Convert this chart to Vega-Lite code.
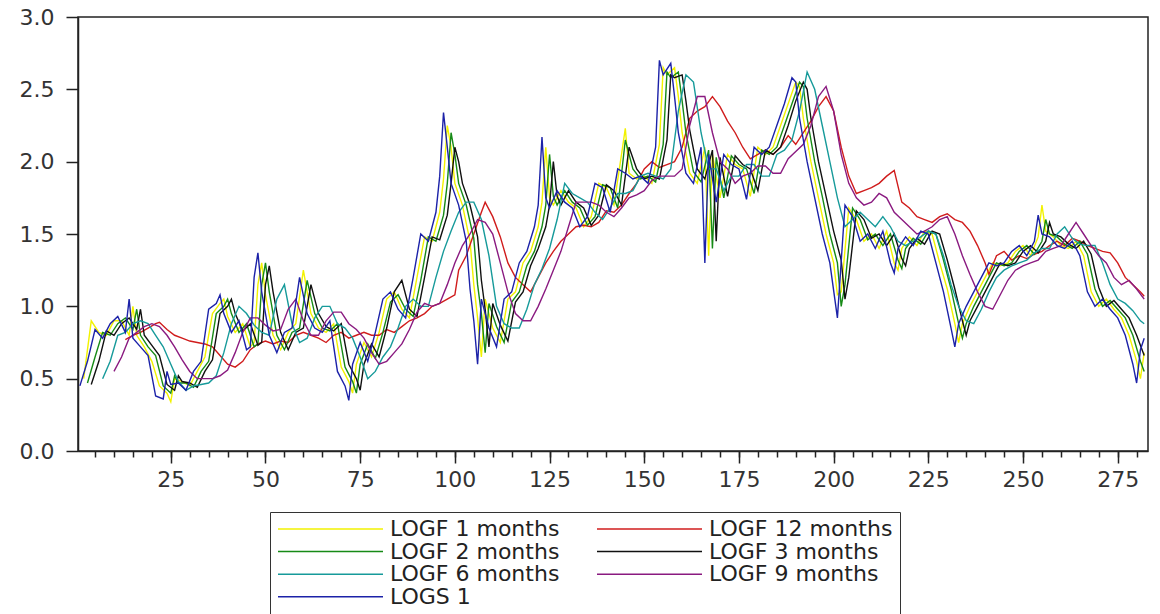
{
"$schema":"https://vega.github.io/schema/vega-lite/v6.json",
"width":1070,"height":434,
"autosize":{"type":"none"},
"padding":{"left":78,"top":17,"right":12,"bottom":163},
"background":"#ffffff",
"config":{"view":{"stroke":"#222","strokeWidth":1.5},"axis":{"domainColor":"#222","tickColor":"#222","labelFont":"DejaVu Sans","labelFontSize":22,"labelColor":"#333","grid":false}},
"data":{"values":[
{"s":"LOGF 1 months","t":2,"v":0.5},{"s":"LOGF 1 months","t":4,"v":0.9},{"s":"LOGF 1 months","t":6,"v":0.82},{"s":"LOGF 1 months","t":8,"v":0.8},{"s":"LOGF 1 months","t":10,"v":0.9},{"s":"LOGF 1 months","t":12,"v":0.9},{"s":"LOGF 1 months","t":14,"v":0.8},{"s":"LOGF 1 months","t":15,"v":1.0},{"s":"LOGF 1 months","t":16,"v":0.8},{"s":"LOGF 1 months","t":18,"v":0.72},{"s":"LOGF 1 months","t":20,"v":0.62},{"s":"LOGF 1 months","t":22,"v":0.45},{"s":"LOGF 1 months","t":24,"v":0.4},{"s":"LOGF 1 months","t":25,"v":0.34},{"s":"LOGF 1 months","t":26,"v":0.5},{"s":"LOGF 1 months","t":28,"v":0.48},{"s":"LOGF 1 months","t":30,"v":0.45},{"s":"LOGF 1 months","t":32,"v":0.55},{"s":"LOGF 1 months","t":34,"v":0.65},{"s":"LOGF 1 months","t":36,"v":0.95},{"s":"LOGF 1 months","t":38,"v":1.02},{"s":"LOGF 1 months","t":39,"v":1.05},{"s":"LOGF 1 months","t":40,"v":0.93},{"s":"LOGF 1 months","t":42,"v":0.82},{"s":"LOGF 1 months","t":44,"v":0.88},{"s":"LOGF 1 months","t":46,"v":0.72},{"s":"LOGF 1 months","t":47,"v":0.75},{"s":"LOGF 1 months","t":48,"v":1.15},{"s":"LOGF 1 months","t":49,"v":1.3},{"s":"LOGF 1 months","t":50,"v":1.08},{"s":"LOGF 1 months","t":52,"v":0.8},{"s":"LOGF 1 months","t":54,"v":0.7},{"s":"LOGF 1 months","t":56,"v":0.82},{"s":"LOGF 1 months","t":58,"v":0.88},{"s":"LOGF 1 months","t":60,"v":1.25},{"s":"LOGF 1 months","t":62,"v":0.95},{"s":"LOGF 1 months","t":64,"v":0.85},{"s":"LOGF 1 months","t":66,"v":0.82},{"s":"LOGF 1 months","t":68,"v":0.88},{"s":"LOGF 1 months","t":70,"v":0.58},{"s":"LOGF 1 months","t":72,"v":0.48},{"s":"LOGF 1 months","t":73,"v":0.4},{"s":"LOGF 1 months","t":74,"v":0.6},{"s":"LOGF 1 months","t":76,"v":0.75},{"s":"LOGF 1 months","t":78,"v":0.65},{"s":"LOGF 1 months","t":80,"v":0.82},{"s":"LOGF 1 months","t":82,"v":1.05},{"s":"LOGF 1 months","t":84,"v":1.1},{"s":"LOGF 1 months","t":86,"v":0.98},{"s":"LOGF 1 months","t":88,"v":0.92},{"s":"LOGF 1 months","t":90,"v":1.2},{"s":"LOGF 1 months","t":92,"v":1.48},{"s":"LOGF 1 months","t":94,"v":1.45},{"s":"LOGF 1 months","t":96,"v":1.65},{"s":"LOGF 1 months","t":97,"v":1.88},{"s":"LOGF 1 months","t":98,"v":2.25},{"s":"LOGF 1 months","t":99,"v":2.1},{"s":"LOGF 1 months","t":100,"v":1.85},{"s":"LOGF 1 months","t":102,"v":1.7},{"s":"LOGF 1 months","t":104,"v":1.45},{"s":"LOGF 1 months","t":105,"v":1.15},{"s":"LOGF 1 months","t":106,"v":0.92},{"s":"LOGF 1 months","t":107,"v":0.65},{"s":"LOGF 1 months","t":108,"v":1.05},{"s":"LOGF 1 months","t":110,"v":0.85},{"s":"LOGF 1 months","t":112,"v":0.75},{"s":"LOGF 1 months","t":114,"v":1.05},{"s":"LOGF 1 months","t":116,"v":1.1},{"s":"LOGF 1 months","t":118,"v":1.3},{"s":"LOGF 1 months","t":120,"v":1.38},{"s":"LOGF 1 months","t":122,"v":1.55},{"s":"LOGF 1 months","t":123,"v":1.72},{"s":"LOGF 1 months","t":124,"v":2.1},{"s":"LOGF 1 months","t":125,"v":1.75},{"s":"LOGF 1 months","t":126,"v":1.7},{"s":"LOGF 1 months","t":128,"v":1.8},{"s":"LOGF 1 months","t":130,"v":1.72},{"s":"LOGF 1 months","t":132,"v":1.68},{"s":"LOGF 1 months","t":134,"v":1.55},{"s":"LOGF 1 months","t":136,"v":1.62},{"s":"LOGF 1 months","t":138,"v":1.85},{"s":"LOGF 1 months","t":140,"v":1.82},{"s":"LOGF 1 months","t":142,"v":1.7},{"s":"LOGF 1 months","t":144,"v":2.05},{"s":"LOGF 1 months","t":145,"v":2.23},{"s":"LOGF 1 months","t":146,"v":1.92},{"s":"LOGF 1 months","t":148,"v":1.88},{"s":"LOGF 1 months","t":150,"v":1.9},{"s":"LOGF 1 months","t":152,"v":1.85},{"s":"LOGF 1 months","t":154,"v":2.12},{"s":"LOGF 1 months","t":155,"v":2.65},{"s":"LOGF 1 months","t":156,"v":2.6},{"s":"LOGF 1 months","t":158,"v":2.65},{"s":"LOGF 1 months","t":159,"v":2.45},{"s":"LOGF 1 months","t":160,"v":2.2},{"s":"LOGF 1 months","t":162,"v":1.92},{"s":"LOGF 1 months","t":164,"v":1.85},{"s":"LOGF 1 months","t":166,"v":2.1},{"s":"LOGF 1 months","t":167,"v":1.35},{"s":"LOGF 1 months","t":168,"v":2.05},{"s":"LOGF 1 months","t":170,"v":1.75},{"s":"LOGF 1 months","t":172,"v":2.05},{"s":"LOGF 1 months","t":174,"v":1.98},{"s":"LOGF 1 months","t":176,"v":1.95},{"s":"LOGF 1 months","t":178,"v":1.76},{"s":"LOGF 1 months","t":180,"v":2.1},{"s":"LOGF 1 months","t":182,"v":2.05},{"s":"LOGF 1 months","t":184,"v":2.1},{"s":"LOGF 1 months","t":186,"v":2.25},{"s":"LOGF 1 months","t":188,"v":2.4},{"s":"LOGF 1 months","t":190,"v":2.55},{"s":"LOGF 1 months","t":191,"v":2.52},{"s":"LOGF 1 months","t":192,"v":2.3},{"s":"LOGF 1 months","t":194,"v":2.0},{"s":"LOGF 1 months","t":196,"v":1.75},{"s":"LOGF 1 months","t":198,"v":1.5},{"s":"LOGF 1 months","t":200,"v":1.3},{"s":"LOGF 1 months","t":201,"v":1.08},{"s":"LOGF 1 months","t":202,"v":1.1},{"s":"LOGF 1 months","t":204,"v":1.68},{"s":"LOGF 1 months","t":206,"v":1.6},{"s":"LOGF 1 months","t":208,"v":1.45},{"s":"LOGF 1 months","t":210,"v":1.5},{"s":"LOGF 1 months","t":212,"v":1.4},{"s":"LOGF 1 months","t":214,"v":1.52},{"s":"LOGF 1 months","t":216,"v":1.3},{"s":"LOGF 1 months","t":217,"v":1.25},{"s":"LOGF 1 months","t":218,"v":1.4},{"s":"LOGF 1 months","t":220,"v":1.48},{"s":"LOGF 1 months","t":222,"v":1.42},{"s":"LOGF 1 months","t":224,"v":1.52},{"s":"LOGF 1 months","t":226,"v":1.5},{"s":"LOGF 1 months","t":228,"v":1.3},{"s":"LOGF 1 months","t":230,"v":1.12},{"s":"LOGF 1 months","t":232,"v":0.88},{"s":"LOGF 1 months","t":233,"v":0.75},{"s":"LOGF 1 months","t":234,"v":0.88},{"s":"LOGF 1 months","t":236,"v":1.0},{"s":"LOGF 1 months","t":238,"v":1.1},{"s":"LOGF 1 months","t":240,"v":1.2},{"s":"LOGF 1 months","t":242,"v":1.3},{"s":"LOGF 1 months","t":244,"v":1.28},{"s":"LOGF 1 months","t":246,"v":1.3},{"s":"LOGF 1 months","t":248,"v":1.38},{"s":"LOGF 1 months","t":250,"v":1.42},{"s":"LOGF 1 months","t":252,"v":1.35},{"s":"LOGF 1 months","t":254,"v":1.48},{"s":"LOGF 1 months","t":255,"v":1.7},{"s":"LOGF 1 months","t":256,"v":1.52},{"s":"LOGF 1 months","t":258,"v":1.48},{"s":"LOGF 1 months","t":260,"v":1.42},{"s":"LOGF 1 months","t":262,"v":1.4},{"s":"LOGF 1 months","t":264,"v":1.45},{"s":"LOGF 1 months","t":266,"v":1.35},{"s":"LOGF 1 months","t":268,"v":1.1},{"s":"LOGF 1 months","t":270,"v":1.0},{"s":"LOGF 1 months","t":272,"v":1.05},{"s":"LOGF 1 months","t":274,"v":0.98},{"s":"LOGF 1 months","t":276,"v":0.92},{"s":"LOGF 1 months","t":278,"v":0.8},{"s":"LOGF 1 months","t":280,"v":0.62},{"s":"LOGF 1 months","t":281,"v":0.5},{"s":"LOGF 1 months","t":282,"v":0.68},
{"s":"LOGF 12 months","t":13,"v":0.77},{"s":"LOGF 12 months","t":15,"v":0.8},{"s":"LOGF 12 months","t":17,"v":0.82},{"s":"LOGF 12 months","t":19,"v":0.85},{"s":"LOGF 12 months","t":21,"v":0.88},{"s":"LOGF 12 months","t":22,"v":0.89},{"s":"LOGF 12 months","t":24,"v":0.84},{"s":"LOGF 12 months","t":26,"v":0.8},{"s":"LOGF 12 months","t":28,"v":0.78},{"s":"LOGF 12 months","t":30,"v":0.76},{"s":"LOGF 12 months","t":32,"v":0.75},{"s":"LOGF 12 months","t":34,"v":0.74},{"s":"LOGF 12 months","t":36,"v":0.72},{"s":"LOGF 12 months","t":38,"v":0.66},{"s":"LOGF 12 months","t":40,"v":0.6},{"s":"LOGF 12 months","t":42,"v":0.58},{"s":"LOGF 12 months","t":44,"v":0.62},{"s":"LOGF 12 months","t":46,"v":0.7},{"s":"LOGF 12 months","t":48,"v":0.74},{"s":"LOGF 12 months","t":50,"v":0.76},{"s":"LOGF 12 months","t":52,"v":0.74},{"s":"LOGF 12 months","t":54,"v":0.76},{"s":"LOGF 12 months","t":56,"v":0.75},{"s":"LOGF 12 months","t":58,"v":0.8},{"s":"LOGF 12 months","t":60,"v":0.82},{"s":"LOGF 12 months","t":62,"v":0.8},{"s":"LOGF 12 months","t":64,"v":0.78},{"s":"LOGF 12 months","t":66,"v":0.75},{"s":"LOGF 12 months","t":68,"v":0.8},{"s":"LOGF 12 months","t":70,"v":0.82},{"s":"LOGF 12 months","t":72,"v":0.78},{"s":"LOGF 12 months","t":74,"v":0.8},{"s":"LOGF 12 months","t":76,"v":0.82},{"s":"LOGF 12 months","t":78,"v":0.8},{"s":"LOGF 12 months","t":80,"v":0.8},{"s":"LOGF 12 months","t":82,"v":0.84},{"s":"LOGF 12 months","t":84,"v":0.82},{"s":"LOGF 12 months","t":86,"v":0.86},{"s":"LOGF 12 months","t":88,"v":0.9},{"s":"LOGF 12 months","t":90,"v":0.92},{"s":"LOGF 12 months","t":92,"v":0.95},{"s":"LOGF 12 months","t":94,"v":1.0},{"s":"LOGF 12 months","t":96,"v":1.02},{"s":"LOGF 12 months","t":98,"v":1.05},{"s":"LOGF 12 months","t":100,"v":1.08},{"s":"LOGF 12 months","t":101,"v":1.25},{"s":"LOGF 12 months","t":103,"v":1.35},{"s":"LOGF 12 months","t":105,"v":1.5},{"s":"LOGF 12 months","t":107,"v":1.65},{"s":"LOGF 12 months","t":108,"v":1.72},{"s":"LOGF 12 months","t":110,"v":1.62},{"s":"LOGF 12 months","t":112,"v":1.48},{"s":"LOGF 12 months","t":114,"v":1.3},{"s":"LOGF 12 months","t":116,"v":1.2},{"s":"LOGF 12 months","t":118,"v":1.15},{"s":"LOGF 12 months","t":120,"v":1.1},{"s":"LOGF 12 months","t":122,"v":1.2},{"s":"LOGF 12 months","t":124,"v":1.3},{"s":"LOGF 12 months","t":126,"v":1.38},{"s":"LOGF 12 months","t":128,"v":1.45},{"s":"LOGF 12 months","t":130,"v":1.5},{"s":"LOGF 12 months","t":132,"v":1.55},{"s":"LOGF 12 months","t":134,"v":1.56},{"s":"LOGF 12 months","t":136,"v":1.55},{"s":"LOGF 12 months","t":138,"v":1.58},{"s":"LOGF 12 months","t":140,"v":1.66},{"s":"LOGF 12 months","t":142,"v":1.65},{"s":"LOGF 12 months","t":144,"v":1.7},{"s":"LOGF 12 months","t":146,"v":1.78},{"s":"LOGF 12 months","t":148,"v":1.85},{"s":"LOGF 12 months","t":150,"v":1.95},{"s":"LOGF 12 months","t":152,"v":2.0},{"s":"LOGF 12 months","t":154,"v":1.96},{"s":"LOGF 12 months","t":156,"v":1.98},{"s":"LOGF 12 months","t":158,"v":2.0},{"s":"LOGF 12 months","t":160,"v":2.1},{"s":"LOGF 12 months","t":162,"v":2.3},{"s":"LOGF 12 months","t":164,"v":2.35},{"s":"LOGF 12 months","t":166,"v":2.38},{"s":"LOGF 12 months","t":168,"v":2.45},{"s":"LOGF 12 months","t":170,"v":2.38},{"s":"LOGF 12 months","t":172,"v":2.28},{"s":"LOGF 12 months","t":174,"v":2.2},{"s":"LOGF 12 months","t":176,"v":2.1},{"s":"LOGF 12 months","t":178,"v":2.02},{"s":"LOGF 12 months","t":180,"v":2.05},{"s":"LOGF 12 months","t":182,"v":2.08},{"s":"LOGF 12 months","t":184,"v":2.05},{"s":"LOGF 12 months","t":186,"v":2.1},{"s":"LOGF 12 months","t":188,"v":2.18},{"s":"LOGF 12 months","t":190,"v":2.12},{"s":"LOGF 12 months","t":192,"v":2.2},{"s":"LOGF 12 months","t":194,"v":2.28},{"s":"LOGF 12 months","t":196,"v":2.38},{"s":"LOGF 12 months","t":198,"v":2.45},{"s":"LOGF 12 months","t":200,"v":2.35},{"s":"LOGF 12 months","t":202,"v":2.1},{"s":"LOGF 12 months","t":204,"v":1.9},{"s":"LOGF 12 months","t":206,"v":1.78},{"s":"LOGF 12 months","t":208,"v":1.8},{"s":"LOGF 12 months","t":210,"v":1.82},{"s":"LOGF 12 months","t":212,"v":1.85},{"s":"LOGF 12 months","t":214,"v":1.9},{"s":"LOGF 12 months","t":216,"v":1.94},{"s":"LOGF 12 months","t":218,"v":1.72},{"s":"LOGF 12 months","t":220,"v":1.68},{"s":"LOGF 12 months","t":222,"v":1.62},{"s":"LOGF 12 months","t":224,"v":1.6},{"s":"LOGF 12 months","t":226,"v":1.58},{"s":"LOGF 12 months","t":228,"v":1.62},{"s":"LOGF 12 months","t":230,"v":1.64},{"s":"LOGF 12 months","t":232,"v":1.6},{"s":"LOGF 12 months","t":234,"v":1.58},{"s":"LOGF 12 months","t":236,"v":1.52},{"s":"LOGF 12 months","t":238,"v":1.42},{"s":"LOGF 12 months","t":240,"v":1.3},{"s":"LOGF 12 months","t":241,"v":1.22},{"s":"LOGF 12 months","t":243,"v":1.35},{"s":"LOGF 12 months","t":245,"v":1.38},{"s":"LOGF 12 months","t":247,"v":1.32},{"s":"LOGF 12 months","t":249,"v":1.35},{"s":"LOGF 12 months","t":251,"v":1.33},{"s":"LOGF 12 months","t":253,"v":1.36},{"s":"LOGF 12 months","t":255,"v":1.38},{"s":"LOGF 12 months","t":257,"v":1.42},{"s":"LOGF 12 months","t":259,"v":1.45},{"s":"LOGF 12 months","t":261,"v":1.42},{"s":"LOGF 12 months","t":263,"v":1.47},{"s":"LOGF 12 months","t":265,"v":1.45},{"s":"LOGF 12 months","t":267,"v":1.42},{"s":"LOGF 12 months","t":269,"v":1.4},{"s":"LOGF 12 months","t":271,"v":1.38},{"s":"LOGF 12 months","t":273,"v":1.37},{"s":"LOGF 12 months","t":275,"v":1.3},{"s":"LOGF 12 months","t":277,"v":1.2},{"s":"LOGF 12 months","t":279,"v":1.15},{"s":"LOGF 12 months","t":281,"v":1.1},{"s":"LOGF 12 months","t":282,"v":1.07},
{"s":"LOGF 2 months","t":3,"v":0.47},{"s":"LOGF 2 months","t":5,"v":0.65},{"s":"LOGF 2 months","t":7,"v":0.82},{"s":"LOGF 2 months","t":9,"v":0.8},{"s":"LOGF 2 months","t":11,"v":0.88},{"s":"LOGF 2 months","t":13,"v":0.92},{"s":"LOGF 2 months","t":15,"v":0.84},{"s":"LOGF 2 months","t":16,"v":0.98},{"s":"LOGF 2 months","t":17,"v":0.8},{"s":"LOGF 2 months","t":19,"v":0.72},{"s":"LOGF 2 months","t":21,"v":0.66},{"s":"LOGF 2 months","t":23,"v":0.45},{"s":"LOGF 2 months","t":25,"v":0.4},{"s":"LOGF 2 months","t":26,"v":0.52},{"s":"LOGF 2 months","t":27,"v":0.47},{"s":"LOGF 2 months","t":29,"v":0.47},{"s":"LOGF 2 months","t":31,"v":0.44},{"s":"LOGF 2 months","t":33,"v":0.55},{"s":"LOGF 2 months","t":35,"v":0.62},{"s":"LOGF 2 months","t":37,"v":0.95},{"s":"LOGF 2 months","t":39,"v":1.0},{"s":"LOGF 2 months","t":40,"v":1.05},{"s":"LOGF 2 months","t":41,"v":0.95},{"s":"LOGF 2 months","t":43,"v":0.82},{"s":"LOGF 2 months","t":45,"v":0.88},{"s":"LOGF 2 months","t":47,"v":0.72},{"s":"LOGF 2 months","t":48,"v":0.74},{"s":"LOGF 2 months","t":49,"v":1.15},{"s":"LOGF 2 months","t":50,"v":1.3},{"s":"LOGF 2 months","t":51,"v":1.1},{"s":"LOGF 2 months","t":53,"v":0.8},{"s":"LOGF 2 months","t":55,"v":0.7},{"s":"LOGF 2 months","t":57,"v":0.82},{"s":"LOGF 2 months","t":59,"v":0.85},{"s":"LOGF 2 months","t":61,"v":1.18},{"s":"LOGF 2 months","t":63,"v":0.95},{"s":"LOGF 2 months","t":65,"v":0.85},{"s":"LOGF 2 months","t":67,"v":0.83},{"s":"LOGF 2 months","t":69,"v":0.88},{"s":"LOGF 2 months","t":71,"v":0.58},{"s":"LOGF 2 months","t":73,"v":0.48},{"s":"LOGF 2 months","t":74,"v":0.4},{"s":"LOGF 2 months","t":75,"v":0.6},{"s":"LOGF 2 months","t":77,"v":0.74},{"s":"LOGF 2 months","t":79,"v":0.64},{"s":"LOGF 2 months","t":81,"v":0.82},{"s":"LOGF 2 months","t":83,"v":1.03},{"s":"LOGF 2 months","t":85,"v":1.08},{"s":"LOGF 2 months","t":87,"v":0.98},{"s":"LOGF 2 months","t":89,"v":0.93},{"s":"LOGF 2 months","t":91,"v":1.18},{"s":"LOGF 2 months","t":93,"v":1.48},{"s":"LOGF 2 months","t":95,"v":1.45},{"s":"LOGF 2 months","t":97,"v":1.63},{"s":"LOGF 2 months","t":98,"v":1.85},{"s":"LOGF 2 months","t":99,"v":2.2},{"s":"LOGF 2 months","t":100,"v":2.05},{"s":"LOGF 2 months","t":101,"v":1.85},{"s":"LOGF 2 months","t":103,"v":1.7},{"s":"LOGF 2 months","t":105,"v":1.47},{"s":"LOGF 2 months","t":106,"v":1.15},{"s":"LOGF 2 months","t":107,"v":0.95},{"s":"LOGF 2 months","t":108,"v":0.68},{"s":"LOGF 2 months","t":109,"v":1.02},{"s":"LOGF 2 months","t":111,"v":0.86},{"s":"LOGF 2 months","t":113,"v":0.75},{"s":"LOGF 2 months","t":115,"v":1.03},{"s":"LOGF 2 months","t":117,"v":1.1},{"s":"LOGF 2 months","t":119,"v":1.28},{"s":"LOGF 2 months","t":121,"v":1.38},{"s":"LOGF 2 months","t":123,"v":1.55},{"s":"LOGF 2 months","t":124,"v":1.7},{"s":"LOGF 2 months","t":125,"v":2.05},{"s":"LOGF 2 months","t":126,"v":1.76},{"s":"LOGF 2 months","t":127,"v":1.7},{"s":"LOGF 2 months","t":129,"v":1.8},{"s":"LOGF 2 months","t":131,"v":1.72},{"s":"LOGF 2 months","t":133,"v":1.68},{"s":"LOGF 2 months","t":135,"v":1.56},{"s":"LOGF 2 months","t":137,"v":1.62},{"s":"LOGF 2 months","t":139,"v":1.84},{"s":"LOGF 2 months","t":141,"v":1.82},{"s":"LOGF 2 months","t":143,"v":1.68},{"s":"LOGF 2 months","t":145,"v":2.15},{"s":"LOGF 2 months","t":147,"v":1.95},{"s":"LOGF 2 months","t":149,"v":1.88},{"s":"LOGF 2 months","t":151,"v":1.9},{"s":"LOGF 2 months","t":153,"v":1.86},{"s":"LOGF 2 months","t":155,"v":2.12},{"s":"LOGF 2 months","t":156,"v":2.62},{"s":"LOGF 2 months","t":157,"v":2.58},{"s":"LOGF 2 months","t":159,"v":2.62},{"s":"LOGF 2 months","t":160,"v":2.42},{"s":"LOGF 2 months","t":161,"v":2.2},{"s":"LOGF 2 months","t":163,"v":1.93},{"s":"LOGF 2 months","t":165,"v":1.86},{"s":"LOGF 2 months","t":167,"v":2.08},{"s":"LOGF 2 months","t":168,"v":1.4},{"s":"LOGF 2 months","t":169,"v":2.03},{"s":"LOGF 2 months","t":171,"v":1.75},{"s":"LOGF 2 months","t":173,"v":2.04},{"s":"LOGF 2 months","t":175,"v":1.98},{"s":"LOGF 2 months","t":177,"v":1.95},{"s":"LOGF 2 months","t":179,"v":1.78},{"s":"LOGF 2 months","t":181,"v":2.08},{"s":"LOGF 2 months","t":183,"v":2.05},{"s":"LOGF 2 months","t":185,"v":2.1},{"s":"LOGF 2 months","t":187,"v":2.25},{"s":"LOGF 2 months","t":189,"v":2.4},{"s":"LOGF 2 months","t":191,"v":2.55},{"s":"LOGF 2 months","t":192,"v":2.52},{"s":"LOGF 2 months","t":193,"v":2.3},{"s":"LOGF 2 months","t":195,"v":2.0},{"s":"LOGF 2 months","t":197,"v":1.76},{"s":"LOGF 2 months","t":199,"v":1.5},{"s":"LOGF 2 months","t":201,"v":1.3},{"s":"LOGF 2 months","t":202,"v":1.0},{"s":"LOGF 2 months","t":203,"v":1.15},{"s":"LOGF 2 months","t":205,"v":1.68},{"s":"LOGF 2 months","t":207,"v":1.6},{"s":"LOGF 2 months","t":209,"v":1.46},{"s":"LOGF 2 months","t":211,"v":1.5},{"s":"LOGF 2 months","t":213,"v":1.42},{"s":"LOGF 2 months","t":215,"v":1.5},{"s":"LOGF 2 months","t":217,"v":1.32},{"s":"LOGF 2 months","t":218,"v":1.26},{"s":"LOGF 2 months","t":219,"v":1.4},{"s":"LOGF 2 months","t":221,"v":1.47},{"s":"LOGF 2 months","t":223,"v":1.43},{"s":"LOGF 2 months","t":225,"v":1.52},{"s":"LOGF 2 months","t":227,"v":1.5},{"s":"LOGF 2 months","t":229,"v":1.32},{"s":"LOGF 2 months","t":231,"v":1.12},{"s":"LOGF 2 months","t":233,"v":0.88},{"s":"LOGF 2 months","t":234,"v":0.78},{"s":"LOGF 2 months","t":235,"v":0.88},{"s":"LOGF 2 months","t":237,"v":1.0},{"s":"LOGF 2 months","t":239,"v":1.1},{"s":"LOGF 2 months","t":241,"v":1.2},{"s":"LOGF 2 months","t":243,"v":1.3},{"s":"LOGF 2 months","t":245,"v":1.28},{"s":"LOGF 2 months","t":247,"v":1.3},{"s":"LOGF 2 months","t":249,"v":1.38},{"s":"LOGF 2 months","t":251,"v":1.42},{"s":"LOGF 2 months","t":253,"v":1.36},{"s":"LOGF 2 months","t":255,"v":1.45},{"s":"LOGF 2 months","t":256,"v":1.6},{"s":"LOGF 2 months","t":257,"v":1.5},{"s":"LOGF 2 months","t":259,"v":1.48},{"s":"LOGF 2 months","t":261,"v":1.43},{"s":"LOGF 2 months","t":263,"v":1.4},{"s":"LOGF 2 months","t":265,"v":1.45},{"s":"LOGF 2 months","t":267,"v":1.36},{"s":"LOGF 2 months","t":269,"v":1.12},{"s":"LOGF 2 months","t":271,"v":1.0},{"s":"LOGF 2 months","t":273,"v":1.04},{"s":"LOGF 2 months","t":275,"v":0.98},{"s":"LOGF 2 months","t":277,"v":0.92},{"s":"LOGF 2 months","t":279,"v":0.8},{"s":"LOGF 2 months","t":281,"v":0.62},{"s":"LOGF 2 months","t":282,"v":0.55},
{"s":"LOGF 3 months","t":4,"v":0.46},{"s":"LOGF 3 months","t":6,"v":0.62},{"s":"LOGF 3 months","t":8,"v":0.83},{"s":"LOGF 3 months","t":10,"v":0.8},{"s":"LOGF 3 months","t":12,"v":0.88},{"s":"LOGF 3 months","t":14,"v":0.92},{"s":"LOGF 3 months","t":16,"v":0.84},{"s":"LOGF 3 months","t":17,"v":0.98},{"s":"LOGF 3 months","t":18,"v":0.8},{"s":"LOGF 3 months","t":20,"v":0.73},{"s":"LOGF 3 months","t":22,"v":0.66},{"s":"LOGF 3 months","t":24,"v":0.46},{"s":"LOGF 3 months","t":26,"v":0.42},{"s":"LOGF 3 months","t":27,"v":0.52},{"s":"LOGF 3 months","t":28,"v":0.48},{"s":"LOGF 3 months","t":30,"v":0.47},{"s":"LOGF 3 months","t":32,"v":0.44},{"s":"LOGF 3 months","t":34,"v":0.55},{"s":"LOGF 3 months","t":36,"v":0.63},{"s":"LOGF 3 months","t":38,"v":0.95},{"s":"LOGF 3 months","t":40,"v":1.0},{"s":"LOGF 3 months","t":41,"v":1.05},{"s":"LOGF 3 months","t":42,"v":0.95},{"s":"LOGF 3 months","t":44,"v":0.83},{"s":"LOGF 3 months","t":46,"v":0.88},{"s":"LOGF 3 months","t":48,"v":0.73},{"s":"LOGF 3 months","t":49,"v":0.75},{"s":"LOGF 3 months","t":50,"v":1.15},{"s":"LOGF 3 months","t":51,"v":1.28},{"s":"LOGF 3 months","t":52,"v":1.1},{"s":"LOGF 3 months","t":54,"v":0.82},{"s":"LOGF 3 months","t":56,"v":0.7},{"s":"LOGF 3 months","t":58,"v":0.82},{"s":"LOGF 3 months","t":60,"v":0.85},{"s":"LOGF 3 months","t":62,"v":1.15},{"s":"LOGF 3 months","t":64,"v":0.95},{"s":"LOGF 3 months","t":66,"v":0.86},{"s":"LOGF 3 months","t":68,"v":0.83},{"s":"LOGF 3 months","t":70,"v":0.88},{"s":"LOGF 3 months","t":72,"v":0.6},{"s":"LOGF 3 months","t":74,"v":0.5},{"s":"LOGF 3 months","t":75,"v":0.42},{"s":"LOGF 3 months","t":76,"v":0.6},{"s":"LOGF 3 months","t":78,"v":0.74},{"s":"LOGF 3 months","t":80,"v":0.65},{"s":"LOGF 3 months","t":82,"v":0.85},{"s":"LOGF 3 months","t":84,"v":1.1},{"s":"LOGF 3 months","t":86,"v":1.18},{"s":"LOGF 3 months","t":88,"v":0.98},{"s":"LOGF 3 months","t":90,"v":0.93},{"s":"LOGF 3 months","t":92,"v":1.2},{"s":"LOGF 3 months","t":94,"v":1.48},{"s":"LOGF 3 months","t":96,"v":1.46},{"s":"LOGF 3 months","t":98,"v":1.63},{"s":"LOGF 3 months","t":99,"v":1.85},{"s":"LOGF 3 months","t":100,"v":2.1},{"s":"LOGF 3 months","t":101,"v":2.0},{"s":"LOGF 3 months","t":102,"v":1.85},{"s":"LOGF 3 months","t":104,"v":1.7},{"s":"LOGF 3 months","t":106,"v":1.48},{"s":"LOGF 3 months","t":107,"v":1.18},{"s":"LOGF 3 months","t":108,"v":0.98},{"s":"LOGF 3 months","t":109,"v":0.72},{"s":"LOGF 3 months","t":110,"v":1.02},{"s":"LOGF 3 months","t":112,"v":0.87},{"s":"LOGF 3 months","t":114,"v":0.76},{"s":"LOGF 3 months","t":116,"v":1.03},{"s":"LOGF 3 months","t":118,"v":1.1},{"s":"LOGF 3 months","t":120,"v":1.28},{"s":"LOGF 3 months","t":122,"v":1.4},{"s":"LOGF 3 months","t":124,"v":1.55},{"s":"LOGF 3 months","t":125,"v":1.7},{"s":"LOGF 3 months","t":126,"v":2.0},{"s":"LOGF 3 months","t":127,"v":1.76},{"s":"LOGF 3 months","t":128,"v":1.7},{"s":"LOGF 3 months","t":130,"v":1.8},{"s":"LOGF 3 months","t":132,"v":1.72},{"s":"LOGF 3 months","t":134,"v":1.68},{"s":"LOGF 3 months","t":136,"v":1.56},{"s":"LOGF 3 months","t":138,"v":1.63},{"s":"LOGF 3 months","t":140,"v":1.84},{"s":"LOGF 3 months","t":142,"v":1.8},{"s":"LOGF 3 months","t":144,"v":1.7},{"s":"LOGF 3 months","t":146,"v":2.1},{"s":"LOGF 3 months","t":148,"v":1.95},{"s":"LOGF 3 months","t":150,"v":1.88},{"s":"LOGF 3 months","t":152,"v":1.9},{"s":"LOGF 3 months","t":154,"v":1.88},{"s":"LOGF 3 months","t":156,"v":2.15},{"s":"LOGF 3 months","t":157,"v":2.6},{"s":"LOGF 3 months","t":158,"v":2.58},{"s":"LOGF 3 months","t":160,"v":2.6},{"s":"LOGF 3 months","t":161,"v":2.42},{"s":"LOGF 3 months","t":162,"v":2.22},{"s":"LOGF 3 months","t":164,"v":1.95},{"s":"LOGF 3 months","t":166,"v":1.88},{"s":"LOGF 3 months","t":168,"v":2.08},{"s":"LOGF 3 months","t":169,"v":1.45},{"s":"LOGF 3 months","t":170,"v":2.03},{"s":"LOGF 3 months","t":172,"v":1.76},{"s":"LOGF 3 months","t":174,"v":2.04},{"s":"LOGF 3 months","t":176,"v":1.98},{"s":"LOGF 3 months","t":178,"v":1.95},{"s":"LOGF 3 months","t":180,"v":1.8},{"s":"LOGF 3 months","t":182,"v":2.08},{"s":"LOGF 3 months","t":184,"v":2.05},{"s":"LOGF 3 months","t":186,"v":2.1},{"s":"LOGF 3 months","t":188,"v":2.25},{"s":"LOGF 3 months","t":190,"v":2.42},{"s":"LOGF 3 months","t":192,"v":2.55},{"s":"LOGF 3 months","t":193,"v":2.5},{"s":"LOGF 3 months","t":194,"v":2.3},{"s":"LOGF 3 months","t":196,"v":2.0},{"s":"LOGF 3 months","t":198,"v":1.76},{"s":"LOGF 3 months","t":200,"v":1.52},{"s":"LOGF 3 months","t":202,"v":1.32},{"s":"LOGF 3 months","t":203,"v":1.05},{"s":"LOGF 3 months","t":204,"v":1.2},{"s":"LOGF 3 months","t":206,"v":1.66},{"s":"LOGF 3 months","t":208,"v":1.6},{"s":"LOGF 3 months","t":210,"v":1.47},{"s":"LOGF 3 months","t":212,"v":1.5},{"s":"LOGF 3 months","t":214,"v":1.42},{"s":"LOGF 3 months","t":216,"v":1.5},{"s":"LOGF 3 months","t":218,"v":1.33},{"s":"LOGF 3 months","t":219,"v":1.28},{"s":"LOGF 3 months","t":220,"v":1.4},{"s":"LOGF 3 months","t":222,"v":1.47},{"s":"LOGF 3 months","t":224,"v":1.43},{"s":"LOGF 3 months","t":226,"v":1.52},{"s":"LOGF 3 months","t":228,"v":1.5},{"s":"LOGF 3 months","t":230,"v":1.32},{"s":"LOGF 3 months","t":232,"v":1.12},{"s":"LOGF 3 months","t":234,"v":0.9},{"s":"LOGF 3 months","t":235,"v":0.8},{"s":"LOGF 3 months","t":236,"v":0.9},{"s":"LOGF 3 months","t":238,"v":1.0},{"s":"LOGF 3 months","t":240,"v":1.1},{"s":"LOGF 3 months","t":242,"v":1.2},{"s":"LOGF 3 months","t":244,"v":1.3},{"s":"LOGF 3 months","t":246,"v":1.28},{"s":"LOGF 3 months","t":248,"v":1.3},{"s":"LOGF 3 months","t":250,"v":1.38},{"s":"LOGF 3 months","t":252,"v":1.42},{"s":"LOGF 3 months","t":254,"v":1.37},{"s":"LOGF 3 months","t":256,"v":1.45},{"s":"LOGF 3 months","t":257,"v":1.58},{"s":"LOGF 3 months","t":258,"v":1.5},{"s":"LOGF 3 months","t":260,"v":1.48},{"s":"LOGF 3 months","t":262,"v":1.43},{"s":"LOGF 3 months","t":264,"v":1.4},{"s":"LOGF 3 months","t":266,"v":1.45},{"s":"LOGF 3 months","t":268,"v":1.36},{"s":"LOGF 3 months","t":270,"v":1.13},{"s":"LOGF 3 months","t":272,"v":1.0},{"s":"LOGF 3 months","t":274,"v":1.04},{"s":"LOGF 3 months","t":276,"v":0.98},{"s":"LOGF 3 months","t":278,"v":0.92},{"s":"LOGF 3 months","t":280,"v":0.8},{"s":"LOGF 3 months","t":282,"v":0.66},
{"s":"LOGF 6 months","t":7,"v":0.5},{"s":"LOGF 6 months","t":9,"v":0.62},{"s":"LOGF 6 months","t":11,"v":0.8},{"s":"LOGF 6 months","t":13,"v":0.82},{"s":"LOGF 6 months","t":15,"v":0.88},{"s":"LOGF 6 months","t":17,"v":0.9},{"s":"LOGF 6 months","t":19,"v":0.88},{"s":"LOGF 6 months","t":21,"v":0.8},{"s":"LOGF 6 months","t":23,"v":0.72},{"s":"LOGF 6 months","t":25,"v":0.6},{"s":"LOGF 6 months","t":27,"v":0.48},{"s":"LOGF 6 months","t":29,"v":0.42},{"s":"LOGF 6 months","t":31,"v":0.45},{"s":"LOGF 6 months","t":33,"v":0.46},{"s":"LOGF 6 months","t":35,"v":0.47},{"s":"LOGF 6 months","t":37,"v":0.52},{"s":"LOGF 6 months","t":39,"v":0.68},{"s":"LOGF 6 months","t":41,"v":0.88},{"s":"LOGF 6 months","t":43,"v":1.0},{"s":"LOGF 6 months","t":45,"v":0.95},{"s":"LOGF 6 months","t":47,"v":0.87},{"s":"LOGF 6 months","t":49,"v":0.82},{"s":"LOGF 6 months","t":51,"v":0.8},{"s":"LOGF 6 months","t":53,"v":1.05},{"s":"LOGF 6 months","t":55,"v":1.15},{"s":"LOGF 6 months","t":57,"v":0.88},{"s":"LOGF 6 months","t":59,"v":0.75},{"s":"LOGF 6 months","t":61,"v":0.78},{"s":"LOGF 6 months","t":63,"v":0.92},{"s":"LOGF 6 months","t":65,"v":1.0},{"s":"LOGF 6 months","t":67,"v":1.0},{"s":"LOGF 6 months","t":69,"v":0.88},{"s":"LOGF 6 months","t":71,"v":0.85},{"s":"LOGF 6 months","t":73,"v":0.78},{"s":"LOGF 6 months","t":75,"v":0.65},{"s":"LOGF 6 months","t":77,"v":0.5},{"s":"LOGF 6 months","t":79,"v":0.55},{"s":"LOGF 6 months","t":81,"v":0.65},{"s":"LOGF 6 months","t":83,"v":0.72},{"s":"LOGF 6 months","t":85,"v":0.85},{"s":"LOGF 6 months","t":87,"v":1.0},{"s":"LOGF 6 months","t":89,"v":1.05},{"s":"LOGF 6 months","t":91,"v":1.0},{"s":"LOGF 6 months","t":93,"v":1.0},{"s":"LOGF 6 months","t":95,"v":1.2},{"s":"LOGF 6 months","t":97,"v":1.38},{"s":"LOGF 6 months","t":99,"v":1.52},{"s":"LOGF 6 months","t":101,"v":1.65},{"s":"LOGF 6 months","t":103,"v":1.72},{"s":"LOGF 6 months","t":105,"v":1.72},{"s":"LOGF 6 months","t":107,"v":1.6},{"s":"LOGF 6 months","t":109,"v":1.35},{"s":"LOGF 6 months","t":111,"v":1.0},{"s":"LOGF 6 months","t":113,"v":0.88},{"s":"LOGF 6 months","t":115,"v":0.85},{"s":"LOGF 6 months","t":117,"v":0.85},{"s":"LOGF 6 months","t":119,"v":0.98},{"s":"LOGF 6 months","t":121,"v":1.15},{"s":"LOGF 6 months","t":123,"v":1.26},{"s":"LOGF 6 months","t":125,"v":1.4},{"s":"LOGF 6 months","t":127,"v":1.6},{"s":"LOGF 6 months","t":129,"v":1.85},{"s":"LOGF 6 months","t":131,"v":1.78},{"s":"LOGF 6 months","t":133,"v":1.75},{"s":"LOGF 6 months","t":135,"v":1.72},{"s":"LOGF 6 months","t":137,"v":1.65},{"s":"LOGF 6 months","t":139,"v":1.6},{"s":"LOGF 6 months","t":141,"v":1.68},{"s":"LOGF 6 months","t":143,"v":1.78},{"s":"LOGF 6 months","t":145,"v":1.78},{"s":"LOGF 6 months","t":147,"v":1.8},{"s":"LOGF 6 months","t":149,"v":1.9},{"s":"LOGF 6 months","t":151,"v":1.92},{"s":"LOGF 6 months","t":153,"v":1.9},{"s":"LOGF 6 months","t":155,"v":1.88},{"s":"LOGF 6 months","t":157,"v":1.95},{"s":"LOGF 6 months","t":159,"v":2.35},{"s":"LOGF 6 months","t":161,"v":2.6},{"s":"LOGF 6 months","t":163,"v":2.55},{"s":"LOGF 6 months","t":165,"v":2.2},{"s":"LOGF 6 months","t":167,"v":1.95},{"s":"LOGF 6 months","t":169,"v":1.95},{"s":"LOGF 6 months","t":171,"v":1.8},{"s":"LOGF 6 months","t":173,"v":1.9},{"s":"LOGF 6 months","t":175,"v":1.9},{"s":"LOGF 6 months","t":177,"v":1.98},{"s":"LOGF 6 months","t":179,"v":1.98},{"s":"LOGF 6 months","t":181,"v":1.9},{"s":"LOGF 6 months","t":183,"v":1.9},{"s":"LOGF 6 months","t":185,"v":2.05},{"s":"LOGF 6 months","t":187,"v":2.08},{"s":"LOGF 6 months","t":189,"v":2.15},{"s":"LOGF 6 months","t":191,"v":2.35},{"s":"LOGF 6 months","t":193,"v":2.62},{"s":"LOGF 6 months","t":195,"v":2.5},{"s":"LOGF 6 months","t":197,"v":2.25},{"s":"LOGF 6 months","t":199,"v":2.0},{"s":"LOGF 6 months","t":201,"v":1.75},{"s":"LOGF 6 months","t":203,"v":1.55},{"s":"LOGF 6 months","t":205,"v":1.6},{"s":"LOGF 6 months","t":207,"v":1.65},{"s":"LOGF 6 months","t":209,"v":1.6},{"s":"LOGF 6 months","t":211,"v":1.55},{"s":"LOGF 6 months","t":213,"v":1.62},{"s":"LOGF 6 months","t":215,"v":1.55},{"s":"LOGF 6 months","t":217,"v":1.45},{"s":"LOGF 6 months","t":219,"v":1.42},{"s":"LOGF 6 months","t":221,"v":1.45},{"s":"LOGF 6 months","t":223,"v":1.48},{"s":"LOGF 6 months","t":225,"v":1.52},{"s":"LOGF 6 months","t":227,"v":1.5},{"s":"LOGF 6 months","t":229,"v":1.35},{"s":"LOGF 6 months","t":231,"v":1.15},{"s":"LOGF 6 months","t":233,"v":1.0},{"s":"LOGF 6 months","t":235,"v":0.9},{"s":"LOGF 6 months","t":237,"v":0.88},{"s":"LOGF 6 months","t":239,"v":0.98},{"s":"LOGF 6 months","t":241,"v":1.1},{"s":"LOGF 6 months","t":243,"v":1.2},{"s":"LOGF 6 months","t":245,"v":1.25},{"s":"LOGF 6 months","t":247,"v":1.28},{"s":"LOGF 6 months","t":249,"v":1.3},{"s":"LOGF 6 months","t":251,"v":1.32},{"s":"LOGF 6 months","t":253,"v":1.37},{"s":"LOGF 6 months","t":255,"v":1.4},{"s":"LOGF 6 months","t":257,"v":1.4},{"s":"LOGF 6 months","t":259,"v":1.5},{"s":"LOGF 6 months","t":261,"v":1.55},{"s":"LOGF 6 months","t":263,"v":1.47},{"s":"LOGF 6 months","t":265,"v":1.43},{"s":"LOGF 6 months","t":267,"v":1.42},{"s":"LOGF 6 months","t":269,"v":1.42},{"s":"LOGF 6 months","t":271,"v":1.3},{"s":"LOGF 6 months","t":273,"v":1.15},{"s":"LOGF 6 months","t":275,"v":1.05},{"s":"LOGF 6 months","t":277,"v":1.02},{"s":"LOGF 6 months","t":279,"v":0.97},{"s":"LOGF 6 months","t":281,"v":0.9},{"s":"LOGF 6 months","t":282,"v":0.88},
{"s":"LOGF 9 months","t":10,"v":0.55},{"s":"LOGF 9 months","t":12,"v":0.65},{"s":"LOGF 9 months","t":14,"v":0.78},{"s":"LOGF 9 months","t":16,"v":0.82},{"s":"LOGF 9 months","t":18,"v":0.86},{"s":"LOGF 9 months","t":20,"v":0.88},{"s":"LOGF 9 months","t":22,"v":0.86},{"s":"LOGF 9 months","t":24,"v":0.8},{"s":"LOGF 9 months","t":26,"v":0.72},{"s":"LOGF 9 months","t":28,"v":0.63},{"s":"LOGF 9 months","t":30,"v":0.55},{"s":"LOGF 9 months","t":32,"v":0.5},{"s":"LOGF 9 months","t":34,"v":0.5},{"s":"LOGF 9 months","t":36,"v":0.5},{"s":"LOGF 9 months","t":38,"v":0.52},{"s":"LOGF 9 months","t":40,"v":0.56},{"s":"LOGF 9 months","t":42,"v":0.68},{"s":"LOGF 9 months","t":44,"v":0.82},{"s":"LOGF 9 months","t":46,"v":0.92},{"s":"LOGF 9 months","t":48,"v":0.92},{"s":"LOGF 9 months","t":50,"v":0.87},{"s":"LOGF 9 months","t":52,"v":0.83},{"s":"LOGF 9 months","t":54,"v":0.84},{"s":"LOGF 9 months","t":56,"v":0.98},{"s":"LOGF 9 months","t":58,"v":1.05},{"s":"LOGF 9 months","t":60,"v":0.9},{"s":"LOGF 9 months","t":62,"v":0.8},{"s":"LOGF 9 months","t":64,"v":0.8},{"s":"LOGF 9 months","t":66,"v":0.9},{"s":"LOGF 9 months","t":68,"v":0.96},{"s":"LOGF 9 months","t":70,"v":0.96},{"s":"LOGF 9 months","t":72,"v":0.88},{"s":"LOGF 9 months","t":74,"v":0.84},{"s":"LOGF 9 months","t":76,"v":0.78},{"s":"LOGF 9 months","t":78,"v":0.68},{"s":"LOGF 9 months","t":80,"v":0.6},{"s":"LOGF 9 months","t":82,"v":0.62},{"s":"LOGF 9 months","t":84,"v":0.68},{"s":"LOGF 9 months","t":86,"v":0.74},{"s":"LOGF 9 months","t":88,"v":0.84},{"s":"LOGF 9 months","t":90,"v":0.96},{"s":"LOGF 9 months","t":92,"v":1.02},{"s":"LOGF 9 months","t":94,"v":1.0},{"s":"LOGF 9 months","t":96,"v":1.02},{"s":"LOGF 9 months","t":98,"v":1.15},{"s":"LOGF 9 months","t":100,"v":1.3},{"s":"LOGF 9 months","t":102,"v":1.42},{"s":"LOGF 9 months","t":104,"v":1.5},{"s":"LOGF 9 months","t":106,"v":1.6},{"s":"LOGF 9 months","t":108,"v":1.58},{"s":"LOGF 9 months","t":110,"v":1.5},{"s":"LOGF 9 months","t":112,"v":1.3},{"s":"LOGF 9 months","t":114,"v":1.1},{"s":"LOGF 9 months","t":116,"v":0.95},{"s":"LOGF 9 months","t":118,"v":0.9},{"s":"LOGF 9 months","t":120,"v":0.9},{"s":"LOGF 9 months","t":122,"v":1.0},{"s":"LOGF 9 months","t":124,"v":1.12},{"s":"LOGF 9 months","t":126,"v":1.25},{"s":"LOGF 9 months","t":128,"v":1.38},{"s":"LOGF 9 months","t":130,"v":1.55},{"s":"LOGF 9 months","t":132,"v":1.72},{"s":"LOGF 9 months","t":134,"v":1.72},{"s":"LOGF 9 months","t":136,"v":1.72},{"s":"LOGF 9 months","t":138,"v":1.7},{"s":"LOGF 9 months","t":140,"v":1.65},{"s":"LOGF 9 months","t":142,"v":1.62},{"s":"LOGF 9 months","t":144,"v":1.68},{"s":"LOGF 9 months","t":146,"v":1.75},{"s":"LOGF 9 months","t":148,"v":1.77},{"s":"LOGF 9 months","t":150,"v":1.8},{"s":"LOGF 9 months","t":152,"v":1.87},{"s":"LOGF 9 months","t":154,"v":1.9},{"s":"LOGF 9 months","t":156,"v":1.9},{"s":"LOGF 9 months","t":158,"v":1.9},{"s":"LOGF 9 months","t":160,"v":1.95},{"s":"LOGF 9 months","t":162,"v":2.25},{"s":"LOGF 9 months","t":164,"v":2.45},{"s":"LOGF 9 months","t":166,"v":2.45},{"s":"LOGF 9 months","t":168,"v":2.2},{"s":"LOGF 9 months","t":170,"v":2.0},{"s":"LOGF 9 months","t":172,"v":1.95},{"s":"LOGF 9 months","t":174,"v":1.85},{"s":"LOGF 9 months","t":176,"v":1.9},{"s":"LOGF 9 months","t":178,"v":1.92},{"s":"LOGF 9 months","t":180,"v":1.97},{"s":"LOGF 9 months","t":182,"v":1.97},{"s":"LOGF 9 months","t":184,"v":1.92},{"s":"LOGF 9 months","t":186,"v":1.92},{"s":"LOGF 9 months","t":188,"v":2.02},{"s":"LOGF 9 months","t":190,"v":2.07},{"s":"LOGF 9 months","t":192,"v":2.12},{"s":"LOGF 9 months","t":194,"v":2.25},{"s":"LOGF 9 months","t":196,"v":2.45},{"s":"LOGF 9 months","t":198,"v":2.52},{"s":"LOGF 9 months","t":200,"v":2.35},{"s":"LOGF 9 months","t":202,"v":2.05},{"s":"LOGF 9 months","t":204,"v":1.85},{"s":"LOGF 9 months","t":206,"v":1.75},{"s":"LOGF 9 months","t":208,"v":1.7},{"s":"LOGF 9 months","t":210,"v":1.72},{"s":"LOGF 9 months","t":212,"v":1.78},{"s":"LOGF 9 months","t":214,"v":1.75},{"s":"LOGF 9 months","t":216,"v":1.65},{"s":"LOGF 9 months","t":218,"v":1.6},{"s":"LOGF 9 months","t":220,"v":1.55},{"s":"LOGF 9 months","t":222,"v":1.5},{"s":"LOGF 9 months","t":224,"v":1.52},{"s":"LOGF 9 months","t":226,"v":1.55},{"s":"LOGF 9 months","t":228,"v":1.6},{"s":"LOGF 9 months","t":230,"v":1.62},{"s":"LOGF 9 months","t":232,"v":1.5},{"s":"LOGF 9 months","t":234,"v":1.35},{"s":"LOGF 9 months","t":236,"v":1.22},{"s":"LOGF 9 months","t":238,"v":1.1},{"s":"LOGF 9 months","t":240,"v":1.0},{"s":"LOGF 9 months","t":242,"v":0.98},{"s":"LOGF 9 months","t":244,"v":1.08},{"s":"LOGF 9 months","t":246,"v":1.18},{"s":"LOGF 9 months","t":248,"v":1.25},{"s":"LOGF 9 months","t":250,"v":1.28},{"s":"LOGF 9 months","t":252,"v":1.3},{"s":"LOGF 9 months","t":254,"v":1.32},{"s":"LOGF 9 months","t":256,"v":1.38},{"s":"LOGF 9 months","t":258,"v":1.4},{"s":"LOGF 9 months","t":260,"v":1.42},{"s":"LOGF 9 months","t":262,"v":1.5},{"s":"LOGF 9 months","t":264,"v":1.58},{"s":"LOGF 9 months","t":266,"v":1.5},{"s":"LOGF 9 months","t":268,"v":1.42},{"s":"LOGF 9 months","t":270,"v":1.35},{"s":"LOGF 9 months","t":272,"v":1.3},{"s":"LOGF 9 months","t":274,"v":1.2},{"s":"LOGF 9 months","t":276,"v":1.15},{"s":"LOGF 9 months","t":278,"v":1.18},{"s":"LOGF 9 months","t":280,"v":1.12},{"s":"LOGF 9 months","t":282,"v":1.05},
{"s":"LOGS 1","t":1,"v":0.45},{"s":"LOGS 1","t":3,"v":0.62},{"s":"LOGS 1","t":5,"v":0.84},{"s":"LOGS 1","t":7,"v":0.78},{"s":"LOGS 1","t":9,"v":0.88},{"s":"LOGS 1","t":11,"v":0.93},{"s":"LOGS 1","t":13,"v":0.82},{"s":"LOGS 1","t":14,"v":1.05},{"s":"LOGS 1","t":15,"v":0.78},{"s":"LOGS 1","t":17,"v":0.72},{"s":"LOGS 1","t":19,"v":0.66},{"s":"LOGS 1","t":21,"v":0.38},{"s":"LOGS 1","t":23,"v":0.36},{"s":"LOGS 1","t":24,"v":0.55},{"s":"LOGS 1","t":25,"v":0.46},{"s":"LOGS 1","t":27,"v":0.47},{"s":"LOGS 1","t":29,"v":0.42},{"s":"LOGS 1","t":31,"v":0.55},{"s":"LOGS 1","t":33,"v":0.62},{"s":"LOGS 1","t":35,"v":0.98},{"s":"LOGS 1","t":37,"v":1.02},{"s":"LOGS 1","t":38,"v":1.08},{"s":"LOGS 1","t":39,"v":0.95},{"s":"LOGS 1","t":41,"v":0.82},{"s":"LOGS 1","t":43,"v":0.9},{"s":"LOGS 1","t":45,"v":0.7},{"s":"LOGS 1","t":46,"v":0.72},{"s":"LOGS 1","t":47,"v":1.2},{"s":"LOGS 1","t":48,"v":1.37},{"s":"LOGS 1","t":49,"v":1.1},{"s":"LOGS 1","t":51,"v":0.8},{"s":"LOGS 1","t":53,"v":0.68},{"s":"LOGS 1","t":55,"v":0.82},{"s":"LOGS 1","t":57,"v":0.85},{"s":"LOGS 1","t":59,"v":1.2},{"s":"LOGS 1","t":61,"v":0.95},{"s":"LOGS 1","t":63,"v":0.85},{"s":"LOGS 1","t":65,"v":0.82},{"s":"LOGS 1","t":67,"v":0.9},{"s":"LOGS 1","t":69,"v":0.55},{"s":"LOGS 1","t":71,"v":0.45},{"s":"LOGS 1","t":72,"v":0.35},{"s":"LOGS 1","t":73,"v":0.6},{"s":"LOGS 1","t":75,"v":0.75},{"s":"LOGS 1","t":77,"v":0.62},{"s":"LOGS 1","t":79,"v":0.82},{"s":"LOGS 1","t":81,"v":1.05},{"s":"LOGS 1","t":83,"v":1.1},{"s":"LOGS 1","t":85,"v":0.98},{"s":"LOGS 1","t":87,"v":0.92},{"s":"LOGS 1","t":89,"v":1.2},{"s":"LOGS 1","t":91,"v":1.5},{"s":"LOGS 1","t":93,"v":1.45},{"s":"LOGS 1","t":95,"v":1.65},{"s":"LOGS 1","t":96,"v":1.9},{"s":"LOGS 1","t":97,"v":2.34},{"s":"LOGS 1","t":98,"v":2.1},{"s":"LOGS 1","t":99,"v":1.85},{"s":"LOGS 1","t":101,"v":1.7},{"s":"LOGS 1","t":103,"v":1.45},{"s":"LOGS 1","t":104,"v":1.12},{"s":"LOGS 1","t":105,"v":0.9},{"s":"LOGS 1","t":106,"v":0.6},{"s":"LOGS 1","t":107,"v":1.05},{"s":"LOGS 1","t":109,"v":0.85},{"s":"LOGS 1","t":111,"v":0.72},{"s":"LOGS 1","t":113,"v":1.05},{"s":"LOGS 1","t":115,"v":1.1},{"s":"LOGS 1","t":117,"v":1.3},{"s":"LOGS 1","t":119,"v":1.38},{"s":"LOGS 1","t":121,"v":1.55},{"s":"LOGS 1","t":122,"v":1.7},{"s":"LOGS 1","t":123,"v":2.17},{"s":"LOGS 1","t":124,"v":1.75},{"s":"LOGS 1","t":125,"v":1.68},{"s":"LOGS 1","t":127,"v":1.8},{"s":"LOGS 1","t":129,"v":1.72},{"s":"LOGS 1","t":131,"v":1.68},{"s":"LOGS 1","t":133,"v":1.55},{"s":"LOGS 1","t":135,"v":1.62},{"s":"LOGS 1","t":137,"v":1.85},{"s":"LOGS 1","t":139,"v":1.82},{"s":"LOGS 1","t":141,"v":1.65},{"s":"LOGS 1","t":143,"v":1.95},{"s":"LOGS 1","t":145,"v":1.92},{"s":"LOGS 1","t":147,"v":1.88},{"s":"LOGS 1","t":149,"v":1.9},{"s":"LOGS 1","t":151,"v":1.85},{"s":"LOGS 1","t":153,"v":2.1},{"s":"LOGS 1","t":154,"v":2.7},{"s":"LOGS 1","t":155,"v":2.6},{"s":"LOGS 1","t":157,"v":2.68},{"s":"LOGS 1","t":158,"v":2.45},{"s":"LOGS 1","t":159,"v":2.2},{"s":"LOGS 1","t":161,"v":1.92},{"s":"LOGS 1","t":163,"v":1.85},{"s":"LOGS 1","t":165,"v":2.1},{"s":"LOGS 1","t":166,"v":1.3},{"s":"LOGS 1","t":167,"v":2.05},{"s":"LOGS 1","t":169,"v":1.72},{"s":"LOGS 1","t":171,"v":2.05},{"s":"LOGS 1","t":173,"v":1.98},{"s":"LOGS 1","t":175,"v":1.95},{"s":"LOGS 1","t":177,"v":1.74},{"s":"LOGS 1","t":179,"v":2.1},{"s":"LOGS 1","t":181,"v":2.05},{"s":"LOGS 1","t":183,"v":2.1},{"s":"LOGS 1","t":185,"v":2.25},{"s":"LOGS 1","t":187,"v":2.4},{"s":"LOGS 1","t":189,"v":2.58},{"s":"LOGS 1","t":190,"v":2.55},{"s":"LOGS 1","t":191,"v":2.3},{"s":"LOGS 1","t":193,"v":2.0},{"s":"LOGS 1","t":195,"v":1.75},{"s":"LOGS 1","t":197,"v":1.5},{"s":"LOGS 1","t":199,"v":1.3},{"s":"LOGS 1","t":201,"v":0.92},{"s":"LOGS 1","t":203,"v":1.7},{"s":"LOGS 1","t":205,"v":1.62},{"s":"LOGS 1","t":207,"v":1.45},{"s":"LOGS 1","t":209,"v":1.5},{"s":"LOGS 1","t":211,"v":1.4},{"s":"LOGS 1","t":213,"v":1.52},{"s":"LOGS 1","t":215,"v":1.3},{"s":"LOGS 1","t":216,"v":1.23},{"s":"LOGS 1","t":217,"v":1.4},{"s":"LOGS 1","t":219,"v":1.48},{"s":"LOGS 1","t":221,"v":1.42},{"s":"LOGS 1","t":223,"v":1.52},{"s":"LOGS 1","t":225,"v":1.5},{"s":"LOGS 1","t":227,"v":1.3},{"s":"LOGS 1","t":229,"v":1.1},{"s":"LOGS 1","t":231,"v":0.85},{"s":"LOGS 1","t":232,"v":0.72},{"s":"LOGS 1","t":233,"v":0.88},{"s":"LOGS 1","t":235,"v":1.0},{"s":"LOGS 1","t":237,"v":1.1},{"s":"LOGS 1","t":239,"v":1.2},{"s":"LOGS 1","t":241,"v":1.3},{"s":"LOGS 1","t":243,"v":1.28},{"s":"LOGS 1","t":245,"v":1.3},{"s":"LOGS 1","t":247,"v":1.38},{"s":"LOGS 1","t":249,"v":1.42},{"s":"LOGS 1","t":251,"v":1.35},{"s":"LOGS 1","t":253,"v":1.45},{"s":"LOGS 1","t":254,"v":1.63},{"s":"LOGS 1","t":255,"v":1.5},{"s":"LOGS 1","t":257,"v":1.48},{"s":"LOGS 1","t":259,"v":1.42},{"s":"LOGS 1","t":261,"v":1.4},{"s":"LOGS 1","t":263,"v":1.45},{"s":"LOGS 1","t":265,"v":1.35},{"s":"LOGS 1","t":267,"v":1.1},{"s":"LOGS 1","t":269,"v":1.0},{"s":"LOGS 1","t":271,"v":1.05},{"s":"LOGS 1","t":273,"v":0.98},{"s":"LOGS 1","t":275,"v":0.92},{"s":"LOGS 1","t":277,"v":0.8},{"s":"LOGS 1","t":279,"v":0.6},{"s":"LOGS 1","t":280,"v":0.47},{"s":"LOGS 1","t":281,"v":0.7},{"s":"LOGS 1","t":282,"v":0.78}
]},
"layer":[
{"mark":{"type":"point","opacity":0},
 "transform":[{"filter":"datum.s === 'LOGS 1'"}],
 "encoding":{
  "x":{"field":"t","type":"quantitative","scale":{"domain":[0.5,283],"nice":false,"zero":false},"axis":{"orient":"bottom","values":[5,10,15,20,25,30,35,40,45,50,55,60,65,70,75,80,85,90,95,100,105,110,115,120,125,130,135,140,145,150,155,160,165,170,175,180,185,190,195,200,205,210,215,220,225,230,235,240,245,250,255,260,265,270,275,280],"labels":false,"domain":false,"tickSize":6,"tickWidth":1.5,"title":null}},
  "y":{"field":"v","type":"quantitative","scale":{"domain":[0,3],"nice":false},"axis":{"orient":"left","values":[0,0.5,1,1.5,2,2.5,3],"format":".1f","tickSize":12,"tickWidth":1.5,"domainWidth":1.5,"labelPadding":12,"title":null}}}},
{"mark":{"type":"line","strokeWidth":1.4,"interpolate":"linear"},
 "encoding":{
  "x":{"field":"t","type":"quantitative","scale":{"domain":[0.5,283],"nice":false,"zero":false},"axis":{"orient":"bottom","values":[25,50,75,100,125,150,175,200,225,250,275],"tickSize":12,"tickWidth":1.5,"domainWidth":1.5,"labelPadding":6,"labelFlush":false,"title":null}},
  "y":{"field":"v","type":"quantitative","scale":{"domain":[0,3],"nice":false},"axis":{"orient":"left","values":[0,0.5,1,1.5,2,2.5,3],"format":".1f","tickSize":12,"tickWidth":1.5,"domainWidth":1.5,"labelPadding":12,"title":null}},
  "color":{"field":"s","type":"nominal",
   "scale":{"domain":["LOGF 1 months","LOGF 2 months","LOGF 6 months","LOGS 1","LOGF 12 months","LOGF 3 months","LOGF 9 months"],"range":["#f2f200","#168a16","#169a9a","#1c22a8","#d01c1c","#101010","#8a1a80"]},
   "legend":{"orient":"none","legendX":192,"legendY":495,"columns":2,"direction":"vertical","symbolType":"stroke","symbolSize":11025,"symbolStrokeWidth":1.5,"clipHeight":20,"labelFont":"DejaVu Sans","labelFontSize":22,"labelColor":"#222","labelOffset":6,"labelLimit":500,"columnPadding":36,"rowPadding":0.6,"padding":7,"strokeColor":"#333","fillColor":"#ffffff","title":null}}}}
],
"resolve":{"axis":{"x":"independent"}}
}
